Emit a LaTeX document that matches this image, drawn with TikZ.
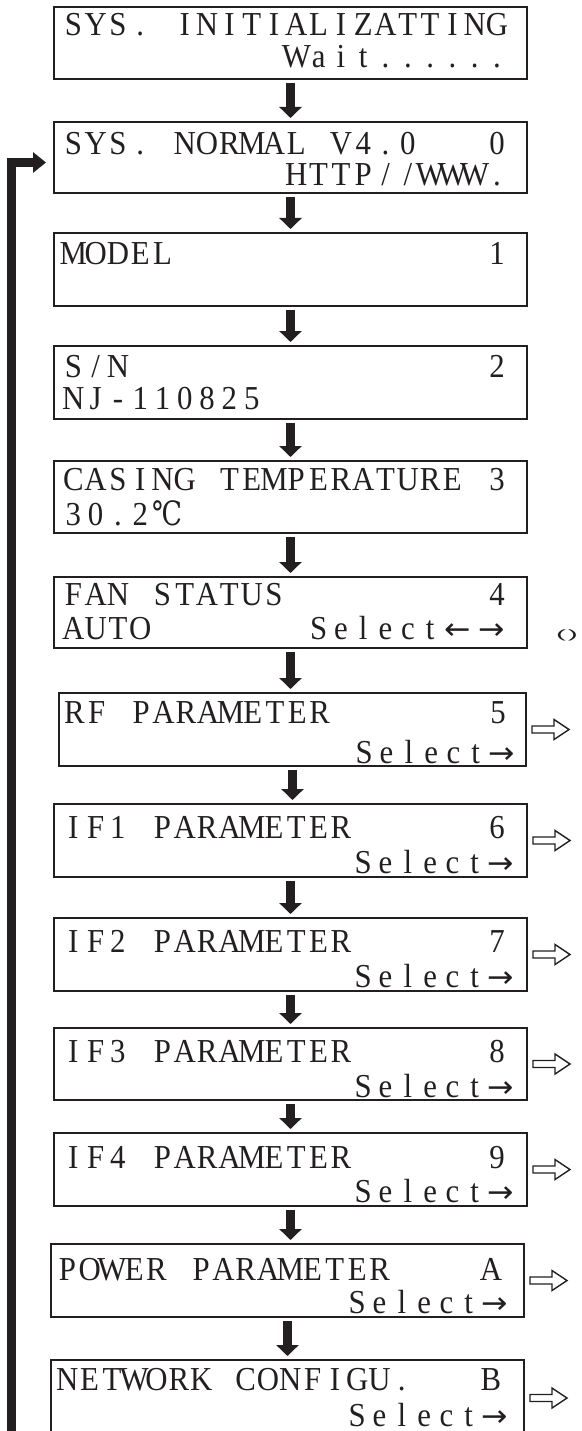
\documentclass[tikz,border=0pt]{standalone}
\usepackage{fontspec}
\usetikzlibrary{arrows.meta}
\newfontfamily\lcdfont[FakeStretch=0.92]{Liberation Serif}
\newfontfamily\symfont[FakeStretch=0.8]{DejaVu Serif}
\newfontfamily\arrfont[FakeStretch=1.05]{DejaVu Sans}
\newfontfamily\markfont{Liberation Sans}
\definecolor{ink}{HTML}{231F20}

\ExplSyntaxOn
\dim_new:N \l_lcd_pitch_dim
\dim_set:Nn \l_lcd_pitch_dim {22.3pt}
\NewDocumentCommand \lcd { m }
 {
  \str_map_inline:nn {#1}
   {
    \hbox_to_wd:nn { \l_lcd_pitch_dim }
     { \hss \str_if_eq:nnF {##1} {_} {##1} \hss }
   }
 }
\NewDocumentCommand \lcdwide { m m }
 {
  \hbox_to_wd:nn { #1 \l_lcd_pitch_dim } { \hss #2 \hss }
 }
\ExplSyntaxOff

\tikzset{
  lcdbox/.style={draw=ink, line width=1.1pt, inner sep=0pt, outer sep=0pt,
    anchor=north west, minimum height=72pt, minimum width=473pt},
  lcdtext/.style={inner sep=0pt, anchor=base west, text=ink,
    text height=22pt, text depth=0pt,
    font=\lcdfont\fontsize{33.5}{40}\selectfont},
  darrow/.style={draw=ink, line width=8.5pt, -{Triangle[length=11pt,width=22pt]}},
  fbarrow/.style={draw=ink, line width=8.5pt, line join=miter,
    -{Triangle[length=13pt,width=20pt]}},
  hollowarrow/.style={draw=ink, fill=white, line width=1.4pt, line join=miter},
}
\newcommand\hollowright[1]{%
  \draw[hollowarrow] ([shift={(6,0)}]#1.east) ++(0,-3.5) -- ++(22,0) -- ++(0,-6.5)
    -- ++(15,10) -- ++(-15,10) -- ++(0,-6.5) -- ++(-22,0) -- cycle;}
\newcommand\selrow{\lcd{_____________Select}\lcdwide{1.3}{\arrfont\fontsize{30}{30}\selectfont →}}

\begin{document}
\begin{tikzpicture}[x=1pt,y=-1pt]
\useasboundingbox (0,0) rectangle (581,1431);
\clip (0,0) rectangle (581,1431);

% boxes
\node[lcdbox] (b1) at (54,7) {};
\node[lcdbox, minimum height=71pt] (b2) at (54,122) {};
\node[lcdbox, minimum height=73pt] (b3) at (54,233) {};
\node[lcdbox, minimum height=73pt] (b4) at (54,346) {};
\node[lcdbox] (b5) at (54,461) {};
\node[lcdbox, minimum height=71pt] (b6) at (54,577) {};
\node[lcdbox, minimum height=73pt, minimum width=467pt] (b7) at (59,693) {};
\node[lcdbox, minimum height=73pt] (b8) at (54,804) {};
\node[lcdbox, minimum height=73pt] (b9) at (54,918) {};
\node[lcdbox] (b10) at (54,1028) {};
\node[lcdbox, minimum height=73pt] (b11) at (54,1133) {};
\node[lcdbox, minimum height=73pt] (b12) at (51,1244) {};
\node[lcdbox, minimum height=76pt] (b13) at (51,1360) {};

% texts
\node[lcdtext] (t1a) at ([shift={(8,29)}]b1.north west) {\lcd{SYS._INITIALIZATTING}};
\node[lcdtext] (t1b) at ([shift={(8,61)}]b1.north west) {\lcd{__________Wait......}};
\node[lcdtext] (t2a) at ([shift={(8,33)}]b2.north west) {\lcd{SYS._NORMAL_V4.0___0}};
\node[lcdtext] (t2b) at ([shift={(8,64)}]b2.north west) {\lcd{__________HTTP//WWW.}};
\node[lcdtext] (t3a) at ([shift={(8,31)}]b3.north west) {\lcd{MODEL______________1}};
\node[lcdtext] (t4a) at ([shift={(8,31)}]b4.north west) {\lcd{S/N________________2}};
\node[lcdtext] (t4b) at ([shift={(8,63)}]b4.north west) {\lcd{NJ-110825}};
\node[lcdtext] (t5a) at ([shift={(8,29)}]b5.north west) {\lcd{CASING_TEMPERATURE_3}};
\node[lcdtext] (t5b) at ([shift={(8,64)}]b5.north west) {\lcd{30.2}\lcdwide{1.4}{\symfont ℃}};
\node[lcdtext] (t6a) at ([shift={(8,28)}]b6.north west) {\lcd{FAN_STATUS_________4}};
\node[lcdtext] (t6b) at ([shift={(8,62)}]b6.north west)
  {\lcd{AUTO_______Select}\lcdwide{1.5}{\arrfont\fontsize{30}{30}\selectfont ←}\lcdwide{1.5}{\arrfont\fontsize{30}{30}\selectfont →}};
\node[lcdtext] (t7a) at ([shift={(4,30)}]b7.north west) {\lcd{RF_PARAMETER_______5}};
\node[lcdtext] (t7b) at ([shift={(4,70)}]b7.north west) {\selrow};
\node[lcdtext] (t8a) at ([shift={(8,34)}]b8.north west) {\lcd{IF1_PARAMETER______6}};
\node[lcdtext] (t8b) at ([shift={(8,69)}]b8.north west) {\selrow};
\node[lcdtext] (t9a) at ([shift={(8,34)}]b9.north west) {\lcd{IF2_PARAMETER______7}};
\node[lcdtext] (t9b) at ([shift={(8,69)}]b9.north west) {\selrow};
\node[lcdtext] (t10a) at ([shift={(8,34)}]b10.north west) {\lcd{IF3_PARAMETER______8}};
\node[lcdtext] (t10b) at ([shift={(8,69)}]b10.north west) {\selrow};
\node[lcdtext] (t11a) at ([shift={(8,35)}]b11.north west) {\lcd{IF4_PARAMETER______9}};
\node[lcdtext] (t11b) at ([shift={(8,69)}]b11.north west) {\selrow};
\node[lcdtext] (t12a) at ([shift={(5,36)}]b12.north west) {\lcd{POWER_PARAMETER____A}};
\node[lcdtext] (t12b) at ([shift={(5,69)}]b12.north west) {\selrow};
\node[lcdtext] (t13a) at ([shift={(5,30)}]b13.north west) {\lcd{NETWORK_CONFIGU.___B}};
\node[lcdtext] (t13b) at ([shift={(5,66)}]b13.north west) {\selrow};

% side mark next to FAN STATUS
\node[inner sep=0pt, text=ink, font=\markfont\fontsize{15}{15}\selectfont] (fanmark)
  at ([shift={(40,23)}]b6.east) {\scalebox{2}[0.8]{(\kern0.8pt)}};

% down arrows
\foreach \i [evaluate=\i as \j using int(\i+1)] in {1,...,12} {
  \draw[darrow] ([shift={(0,4)}]b\i.south) -- ([shift={(0,-4)}]b\i.south |- b\j.north);
}

% feedback loop
\coordinate (fbend) at (11.5,1445);
\draw[fbarrow] (fbend) |- ([shift={(-8,5)}]b2.west);

% hollow arrows to sub menus
\foreach \k in {7,...,13} { \hollowright{b\k} }
\end{tikzpicture}
\end{document}
